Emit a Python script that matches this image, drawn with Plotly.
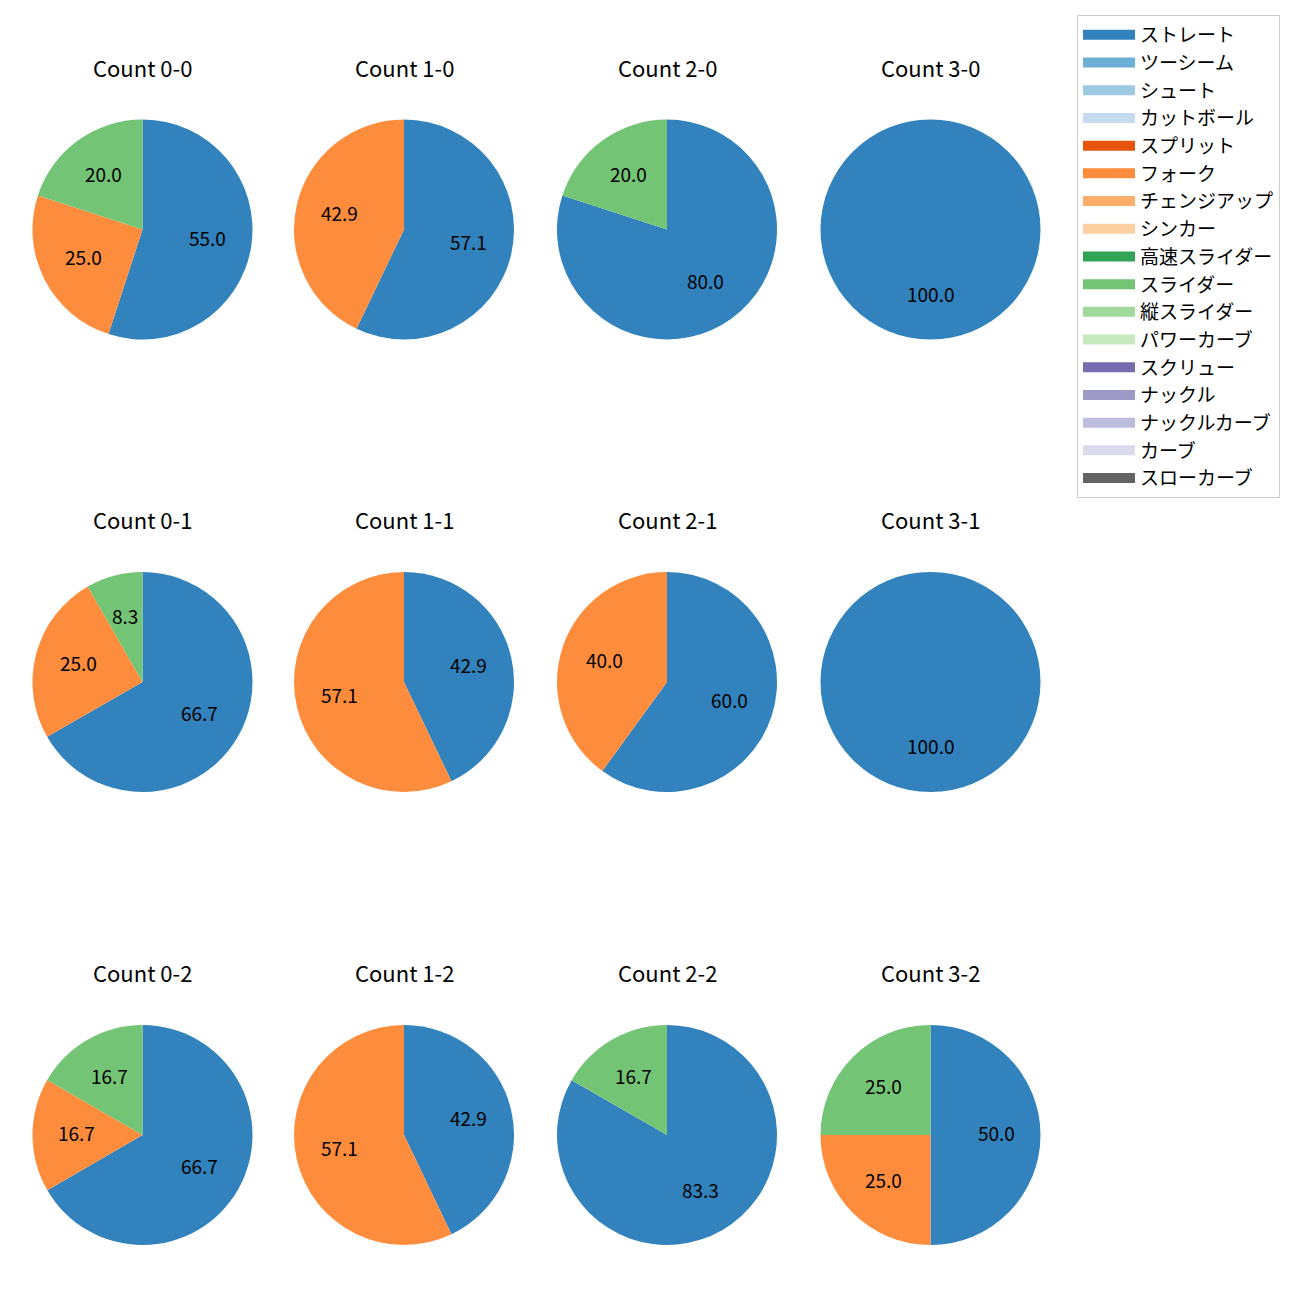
import math
import plotly.graph_objects as go

pitch_types = ["ストレート", "ツーシーム", "シュート", "カットボール", "スプリット", "フォーク",
               "チェンジアップ", "シンカー", "高速スライダー", "スライダー", "縦スライダー",
               "パワーカーブ", "スクリュー", "ナックル", "ナックルカーブ", "カーブ", "スローカーブ"]
colors = ["#3182bd", "#6baed6", "#9ecae1", "#c6dbef", "#e6550d", "#fd8d3c", "#fdae6b", "#fdd0a2",
          "#31a354", "#74c476", "#a1d99b", "#c7e9c0", "#756bb1", "#9e9ac8", "#bcbddc", "#dadaeb",
          "#636363"]

counts = ["0-0", "1-0", "2-0", "3-0",
          "0-1", "1-1", "2-1", "3-1",
          "0-2", "1-2", "2-2", "3-2"]
# shares (%) for ストレート, フォーク, スライダー
straight = [55.0, 57.1, 80.0, 100.0, 66.7, 42.9, 60.0, 100.0, 66.7, 42.9, 83.3, 50.0]
fork =     [25.0, 42.9, 0.0, 0.0, 25.0, 57.1, 40.0, 0.0, 16.7, 57.1, 0.0, 25.0]
slider =   [20.0, 0.0, 20.0, 0.0, 8.3, 0.0, 0.0, 0.0, 16.7, 0.0, 16.7, 25.0]

W = H = 1300
# page has an 8px body margin; layout positions are in figure pixels
col_cx = [134.5, 396, 659, 922.5]
row_cy = [221.5, 674, 1127]
R = 110
TEXT_LIFT = 2.5  # visual centring of text

fig = go.Figure()
annotations = []
for i, cnt in enumerate(counts):
    r_i, c_i = divmod(i, 4)
    cx, cy = col_cx[c_i], row_cy[r_i]
    vals = {"ストレート": straight[i], "フォーク": fork[i], "スライダー": slider[i]}
    labels = [p for p in pitch_types if vals.get(p, 0) > 0]
    values = [vals[p] for p in labels]
    cols = [colors[pitch_types.index(p)] for p in labels]
    fig.add_trace(go.Pie(
        labels=labels, values=values, sort=False, direction="clockwise", rotation=0,
        marker=dict(colors=cols, line=dict(width=0)), textinfo="none", showlegend=False,
        domain=dict(x=[(cx - R) / W, (cx + R) / W], y=[1 - (cy + R) / H, 1 - (cy - R) / H]),
        hoverinfo="label+percent",
    ))
    # labels at 0.6 radius on each slice's mid angle
    total = sum(values)
    cum = 0.0
    for v in values:
        mid = 90 - 360 * (cum + v / 2) / total
        cum += v
        x = cx + 0.6 * R * math.cos(math.radians(mid))
        y = cy - 0.6 * R * math.sin(math.radians(mid)) - TEXT_LIFT
        annotations.append(dict(x=x / W, y=1 - y / H, xref="paper", yref="paper",
                                xanchor="center", yanchor="middle",
                                text=f"{v:.1f}", showarrow=False,
                                font=dict(size=19, color="black")))
    annotations.append(dict(x=cx / W, y=1 - (cy - 160.5 - TEXT_LIFT) / H, xref="paper", yref="paper",
                            xanchor="center", yanchor="middle",
                            text=f"Count {cnt}", showarrow=False,
                            font=dict(size=22, color="black")))

# legend entries
for p, c in zip(pitch_types, colors):
    fig.add_trace(go.Scatter(x=[None], y=[None], mode="lines", name=p, legendgroup=p,
                             line=dict(color=c, width=14), showlegend=True))

fig.update_layout(
    width=W, height=H, margin=dict(l=0, r=0, t=0, b=0),
    paper_bgcolor="white", plot_bgcolor="white",
    font=dict(family="Noto Sans CJK JP", size=19, color="black"),
    xaxis=dict(visible=False), yaxis=dict(visible=False),
    annotations=annotations,
    legend=dict(x=1069 / W, y=1 - 7 / H, xanchor="left", yanchor="top",
                bordercolor="#cccccc", borderwidth=1, bgcolor="white",
                font=dict(size=19), tracegroupgap=0, itemwidth=52),
)
fig.write_html("out.html")
